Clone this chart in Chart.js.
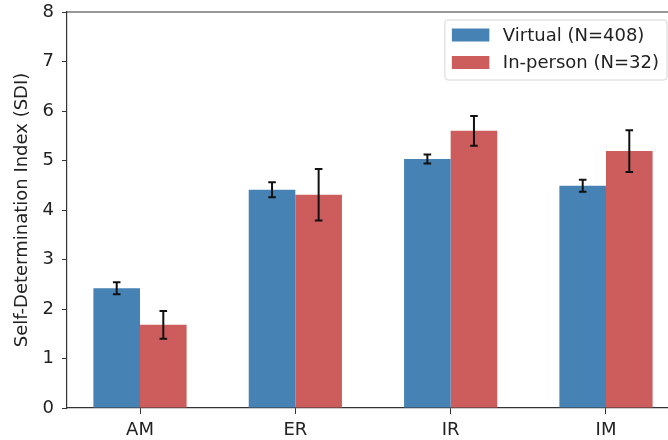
<!DOCTYPE html>
<html>
<head>
<meta charset="utf-8">
<script src="https://cdn.jsdelivr.net/npm/chart.js@4"></script>
<style>
  body { margin: 0; overflow: hidden; background: #fff; }
  #wrap { width: 700px; height: 440px; }
</style>
</head>
<body>
<div id="wrap"><canvas id="sdiChart"></canvas></div>
<script>
let categories = ["AM", "ER", "IR", "IM"];
let virtualMean = [2.42, 4.41, 5.03, 4.49];
let virtualErr = [0.12, 0.15, 0.09, 0.12];
let inPersonMean = [1.68, 4.31, 5.60, 5.19];
let inPersonErr = [0.28, 0.52, 0.30, 0.42];
let yTicks = [0, 1, 2, 3, 4, 5, 6, 7, 8];

let errors = [virtualErr, inPersonErr];
let font = "'DejaVu Sans', sans-serif";
let axisColor = "#333";

function toPoints(values) {
    return values.map((v, i) => ({ x: i, y: v }));
}

// error bars with caps, drawn on top of the bars
let errorBars = {
    id: "errorBars",
    afterDatasetsDraw(chart) {
        let ctx = chart.ctx;
        let yScale = chart.scales.y;
        ctx.save();
        ctx.strokeStyle = "#111";
        ctx.lineWidth = 2;
        chart.data.datasets.forEach((ds, d) => {
            let meta = chart.getDatasetMeta(d);
            meta.data.forEach((bar, i) => {
                let v = ds.data[i].y;
                let e = errors[d][i];
                let top = yScale.getPixelForValue(v + e);
                let bot = yScale.getPixelForValue(v - e);
                ctx.beginPath();
                ctx.moveTo(bar.x, top);
                ctx.lineTo(bar.x, bot);
                ctx.moveTo(bar.x - 3.8, top);
                ctx.lineTo(bar.x + 3.8, top);
                ctx.moveTo(bar.x - 3.8, bot);
                ctx.lineTo(bar.x + 3.8, bot);
                ctx.stroke();
            });
        });
        ctx.restore();
    }
};

// top spine and matplotlib-style legend box
let frameLegend = {
    id: "frameLegend",
    afterDraw(chart) {
        let ctx = chart.ctx;
        let area = chart.chartArea;
        ctx.save();
        ctx.strokeStyle = axisColor;
        ctx.lineWidth = 1.2;
        ctx.beginPath();
        ctx.moveTo(area.left, area.top);
        ctx.lineTo(area.right, area.top);
        ctx.stroke();

        ctx.font = "18px " + font;
        let labels = chart.data.datasets.map(ds => ds.label);
        let textW = Math.max(...labels.map(l => ctx.measureText(l).width));
        let boxW = 58 + textW + 8;
        let boxH = 60;
        let boxX = area.right - 12 - boxW;
        let boxY = area.top + 8;

        ctx.beginPath();
        ctx.roundRect(boxX, boxY, boxW, boxH, 3);
        ctx.fillStyle = "rgba(255,255,255,0.8)";
        ctx.fill();
        ctx.strokeStyle = "#d6d6d6";
        ctx.lineWidth = 1;
        ctx.stroke();

        chart.data.datasets.forEach((ds, d) => {
            let cy = boxY + 15 + d * 27.5;
            ctx.fillStyle = ds.backgroundColor;
            ctx.fillRect(boxX + 7, cy - 6.5, 37.5, 13);
            ctx.fillStyle = "#222";
            ctx.textBaseline = "middle";
            ctx.textAlign = "left";
            ctx.fillText(ds.label, boxX + 58, cy + 1);
        });
        ctx.restore();
    }
};

let ctx = document.getElementById("sdiChart").getContext("2d");

let sdiChart = new Chart(ctx, {
    type: "bar",
    data: {
        datasets: [
            { label: "Virtual (N=408)", data: toPoints(virtualMean), backgroundColor: "#4682B4" },
            { label: "In-person (N=32)", data: toPoints(inPersonMean), backgroundColor: "#CD5C5C" }
        ]
    },
    options: {
        responsive: true,
        maintainAspectRatio: false,
        animation: false,
        layout: { padding: { left: 0, top: 12, right: 21, bottom: 0 } },
        categoryPercentage: 0.6,
        barPercentage: 1.0,
        plugins: {
            legend: { display: false },
            tooltip: { enabled: false }
        },
        scales: {
            x: {
                type: "linear",
                offset: false,
                min: -0.47,
                max: 3.47,
                afterBuildTicks: s => { s.ticks = categories.map((c, i) => ({ value: i })); },
                afterFit: s => { s.height = 32; },
                grid: { offset: false, drawOnChartArea: false, drawTicks: true, tickLength: 6, tickColor: axisColor },
                border: { display: true, color: axisColor, width: 1.2 },
                ticks: {
                    padding: 6,
                    color: "#222",
                    font: { family: font, size: 18 },
                    callback: v => categories[v]
                }
            },
            y: {
                min: 0,
                max: 8,
                afterBuildTicks: s => { s.ticks = yTicks.map(v => ({ value: v })); },
                afterFit: s => { s.width = 67; },
                grid: { drawOnChartArea: false, drawTicks: true, tickLength: 5, tickColor: axisColor },
                border: { display: true, color: axisColor, width: 1.2 },
                ticks: {
                    padding: 8,
                    color: "#222",
                    font: { family: font, size: 18, lineHeight: 0.44 }
                },
                title: {
                    display: true,
                    text: "Self-Determination Index (SDI)",
                    color: "#222",
                    font: { family: font, size: 18 },
                    padding: { top: 12, bottom: 0 }
                }
            }
        }
    },
    plugins: [errorBars, frameLegend]
});
</script>
</body>
</html>
